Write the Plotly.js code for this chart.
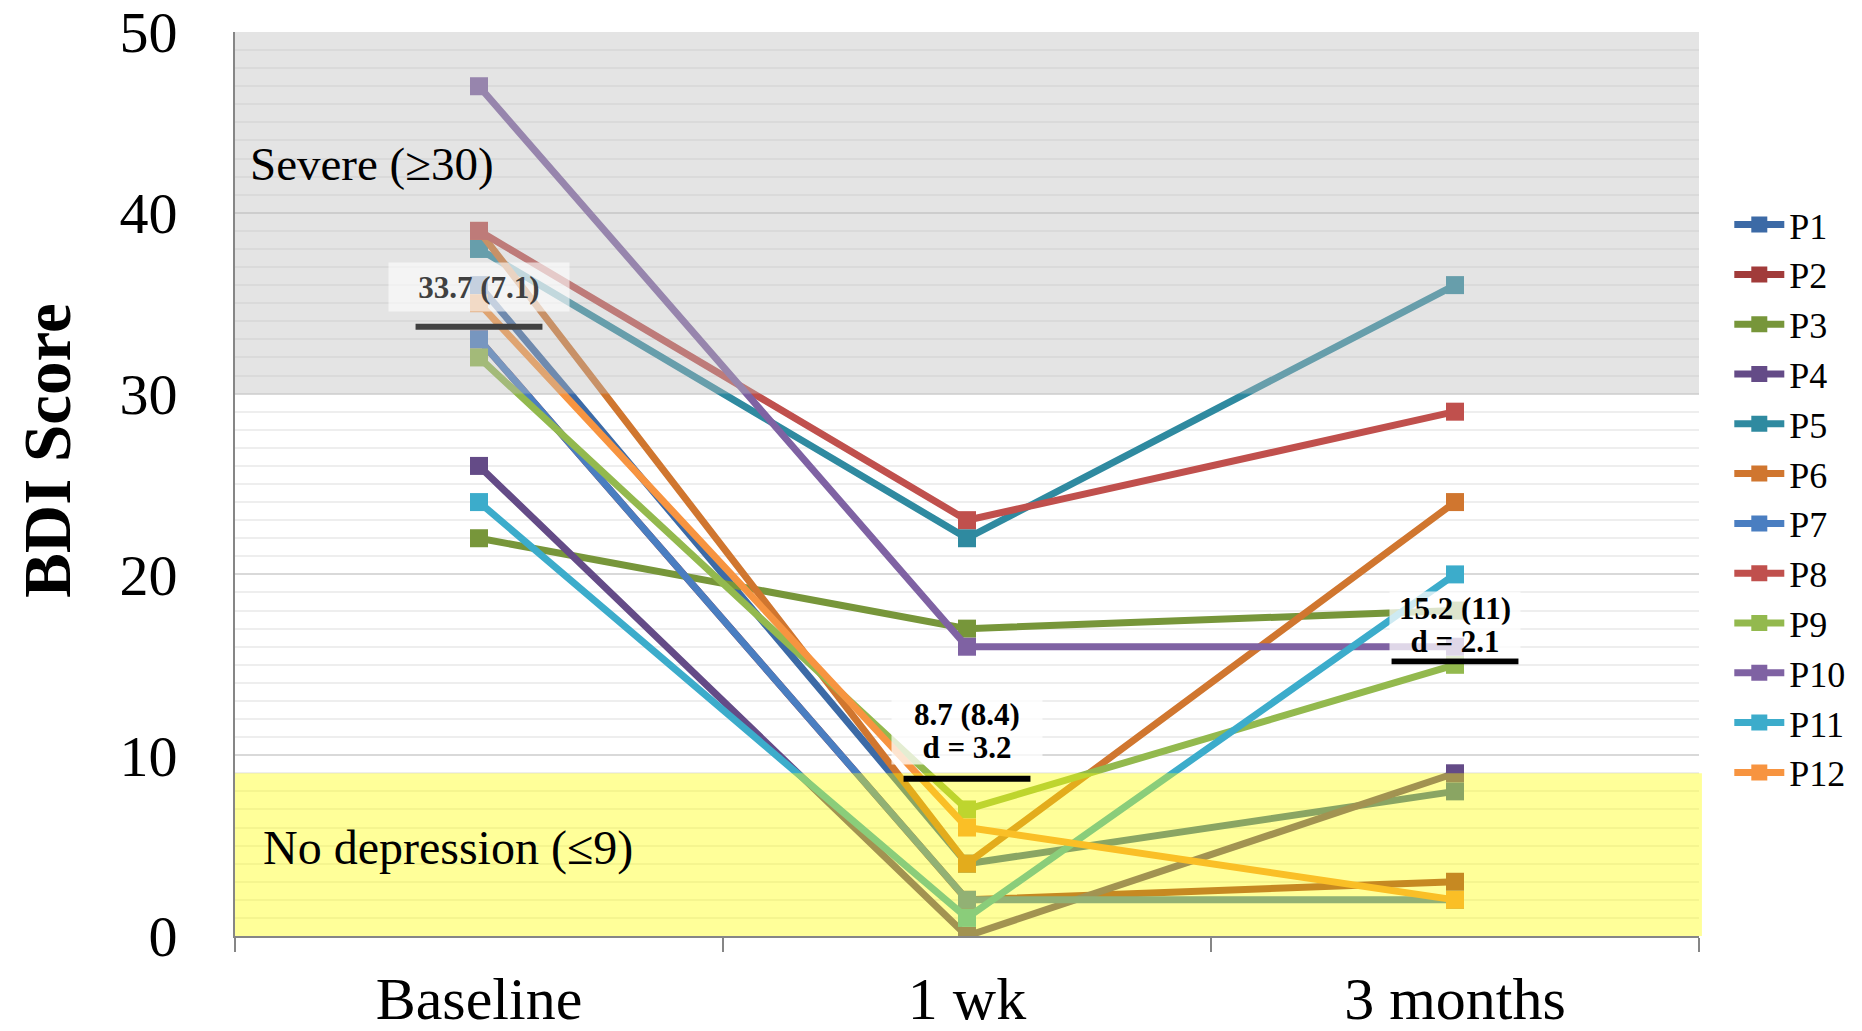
<!DOCTYPE html>
<html>
<head>
<meta charset="utf-8">
<script src="https://cdn.plot.ly/plotly-3.0.1.min.js"></script>
<style>html,body{margin:0;padding:0;background:#fff;}#chart{width:1862px;height:1031px;}</style>
</head>
<body>
<div id="chart"></div>
<script>
// ---- data ----
const categories = ['Baseline', '1 wk', '3 months'];
const seriesNames = ['P1','P2','P3','P4','P5','P6','P7','P8','P9','P10','P11','P12'];
const P1  = [36, 4, 8];
const P2  = [33, 2, 3];
const P3  = [22, 17, 18];
const P4  = [26, 0, 9];
const P5  = [38, 22, 36];
const P6  = [39, 4, 24];
const P7  = [33, 2, 2];
const P8  = [39, 23, 29];
const P9  = [32, 7, 15];
const P10 = [47, 16, 16];
const P11 = [24, 1, 20];
const P12 = [35, 6, 2];
const seriesColors = ['#3c6aa6','#a13b3a','#77963a','#644b87','#2f8aa0','#d0762f',
                      '#4a7ec1','#c0504d','#93b94e','#7f62a3','#3caccb','#f79440'];
const means = [33.7, 8.7, 15.2];
const sds = [7.1, 8.4, 11];
const effectD = [null, 3.2, 2.1];
const yTickStep = 10;
const yRange = [0, 50];
const severeBand = [30, 50];
const noDepBand = [0, 9];
const bandLabels = ['Severe (≥30)', 'No depression (≤9)'];
const yTitle = 'BDI Score';

const allSeries = [P1,P2,P3,P4,P5,P6,P7,P8,P9,P10,P11,P12];

const traces = allSeries.map((vals, i) => ({
  type: 'scatter', mode: 'lines+markers',
  name: seriesNames[i], x: categories, y: vals,
  line: {color: seriesColors[i], width: 7},
  marker: {symbol: 'square', size: 18, color: seriesColors[i]}
}));

const shapes = [
  {type:'rect', layer:'above', xref:'paper', yref:'y', x0:0, x1:1, y0:severeBand[0], y1:severeBand[1],
   fillcolor:'rgb(187,187,187)', opacity:0.4, line:{width:0}},
  {type:'rect', layer:'above', xref:'paper', yref:'y', x0:0, x1:1.002, y0:noDepBand[0], y1:noDepBand[1],
   fillcolor:'rgb(255,255,0)', opacity:0.4, line:{width:0}}
];
means.forEach((m, i) => {
  shapes.push({type:'line', layer:'above', xref:'x', yref:'y', x0:i-0.13, x1:i+0.13, y0:m, y1:m,
    line:{color: i === 0 ? '#404040' : '#000000', width:6}});
});

const annotations = [
  {xref:'paper', yref:'y', x:0.009, y:42.7, xanchor:'left', yanchor:'middle', showarrow:false,
   text: bandLabels[0], font:{family:'Liberation Serif', size:47, color:'#000'}},
  {xref:'paper', yref:'y', x:0.018, y:4.85, xanchor:'left', yanchor:'middle', showarrow:false,
   text: bandLabels[1], font:{family:'Liberation Serif', size:48, color:'#000'}}
];
// label boxes: [width, shift of first line, shift of d line] in px
const boxW = [180, 150, 130];
const shiftTop = [40, 64, 53];
const shiftD = [0, 31, 20];
means.forEach((m, i) => {
  const col = i === 0 ? '#404040' : '#000';
  const bg = i === 0 ? 'rgba(255,255,255,0.6)' : 'rgba(255,255,255,0.75)';
  const h = i === 0 ? 48 : 33;
  annotations.push({xref:'x', yref:'y', x:i, y:m, xanchor:'center', yanchor:'middle', yshift:shiftTop[i],
    showarrow:false, text:'<b>' + m.toFixed(1) + ' (' + sds[i] + ')</b>', width:boxW[i], height:h, borderpad:0,
    bgcolor:bg, font:{family:'Liberation Serif', size:31, color:col}});
  if (effectD[i] !== null) {
    annotations.push({xref:'x', yref:'y', x:i, y:m, xanchor:'center', yanchor:'middle', yshift:shiftD[i],
      showarrow:false, text:'<b>d = ' + effectD[i].toFixed(1) + '</b>', width:boxW[i], height:h, borderpad:0,
      bgcolor:bg, font:{family:'Liberation Serif', size:31, color:col}});
  }
});

const layout = {
  width:1862, height:1031,
  margin:{l:235, r:162, t:32, b:95},
  paper_bgcolor:'#ffffff', plot_bgcolor:'#ffffff',
  font:{family:'Liberation Serif', color:'#000'},
  showlegend:true,
  xaxis:{type:'category', range:[-0.5, 2.5], showline:true, linecolor:'#868686', linewidth:2,
    ticks:'outside', tickson:'boundaries', ticklen:14, tickcolor:'#868686', tickwidth:2,
    showgrid:false, zeroline:false, tickfont:{size:60, color:'#000'}, ticklabelstandoff:9},
  yaxis:{range:yRange, tickmode:'linear', tick0:0, dtick:yTickStep, showline:true, linecolor:'#868686', linewidth:2,
    ticks:'', showgrid:true, gridcolor:'#d9d9d9', gridwidth:2, zeroline:false, automargin:false,
    ticklabeloverflow:'allow',
    minor:{tickmode:'linear', tick0:0, dtick:1, showgrid:true, gridcolor:'#eeeeee', gridwidth:2, ticks:''},
    tickfont:{size:58, color:'#000'}, ticklabelstandoff:44,
    title:{text:'&nbsp;&nbsp;&nbsp;&nbsp;<b>' + yTitle + '</b>', font:{size:67, color:'#000'}, standoff:27}},
  legend:{x:1.02, y:0.82, xanchor:'left', yanchor:'top', bgcolor:'rgba(0,0,0,0)',
    font:{size:36, color:'#000'}, itemwidth:50, tracegroupgap:0},
  shapes: shapes,
  annotations: annotations
};

Plotly.newPlot('chart', traces, layout, {displayModeBar:false, staticPlot:true});
</script>
</body>
</html>
